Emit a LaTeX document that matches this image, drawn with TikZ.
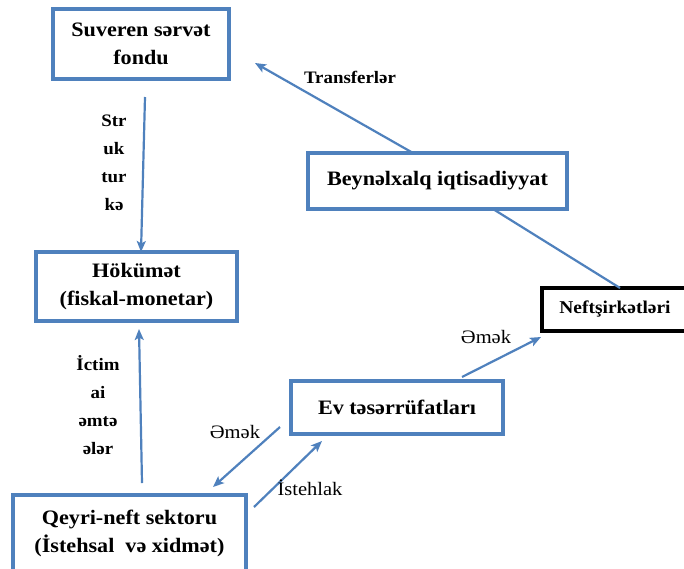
\documentclass[tikz,border=0pt]{standalone}
\usepackage{fontspec}
\setmainfont{Liberation Serif}[FakeStretch=1.08]
\usetikzlibrary{arrows.meta}
\definecolor{ofblue}{HTML}{4F81BD}
\tikzset{
  box/.style={draw=ofblue, line width=3.2pt, align=center, inner sep=0pt,
    font=\fontsize{20.5}{28}\selectfont\bfseries},
  blackbox/.style={draw=black, line width=3.8pt, align=center, inner sep=0pt,
    font=\fontsize{18}{24}\selectfont\bfseries},
  conn/.style={draw=ofblue, line width=2.2pt},
  arr/.style={conn, -{Stealth[length=11pt,width=9pt,inset=2.5pt]}},
  lbl/.style={align=center, inner sep=0pt, font=\fontsize{17.5}{28}\selectfont\bfseries},
  lblr/.style={align=center, inner sep=0pt, font=\fontsize{19}{28}\selectfont}
}
\begin{document}
\begin{tikzpicture}[x=1pt,y=-1pt]
\clip (0,0) rectangle (684,568);
\useasboundingbox (0,0) rectangle (684,568);
\fill[white] (0,0) rectangle (684,568);

\node[box, minimum width=176, minimum height=70] (suv) at (141,44) {Suveren sərvət\\fondu};
\node[box, minimum width=201, minimum height=69] (hok) at (136.5,286.5) {Hökümət\\(fiskal-monetar)};
\node[box, minimum width=233, minimum height=76] (qey) at (129.5,533) {Qeyri-neft sektoru\\(İstehsal\ \ və xidmət)};
\node[box, minimum width=212, minimum height=53] (ev) at (397,407.5) {Ev təsərrüfatları};
\node[box, minimum width=259, minimum height=56] (bey) at (437.5,181) {Beynəlxalq iqtisadiyyat};
\node[blackbox, minimum width=146, minimum height=43] (nef) at (615,309.5) {Neftşirkətləri};

% endpoints
\coordinate (s1) at (145,97);
\coordinate (s2) at (141,252);
\coordinate (q1) at (142,483);
\coordinate (q2) at (139,329);
\coordinate (e1) at (280,427);
\coordinate (e2) at (213,487);
\coordinate (i1) at (254,507);
\coordinate (i2) at (322,441);
\coordinate (n1) at (462,377);
\coordinate (n2) at (541,337);
\coordinate (b1) at (413,153);
\coordinate (b2) at (255,63);
\coordinate (l1) at (493,209);
\coordinate (l2) at (620,288);

\draw[arr] (s1) -- (s2);
\draw[arr] (q1) -- (q2);
\draw[arr] (e1) -- (e2);
\draw[arr] (i1) -- (i2);
\draw[arr] (n1) -- (n2);
\draw[arr] (b1) -- (b2);
\draw[conn] (l1) -- (l2);

\node[lbl] (lstr) at (114,163) {Str\\uk\\tur\\kə};
\node[lbl] (lict) at (98,405) {İctim\\ai\\əmtə\\ələr};
\node[lbl] (ltr) at (350,77) {Transferlər};
\node[lblr] (lem1) at (235,432) {Əmək};
\node[lblr] (list) at (310,488) {İstehlak};
\node[lblr] (lem2) at (486,337) {Əmək};
\end{tikzpicture}
\end{document}
